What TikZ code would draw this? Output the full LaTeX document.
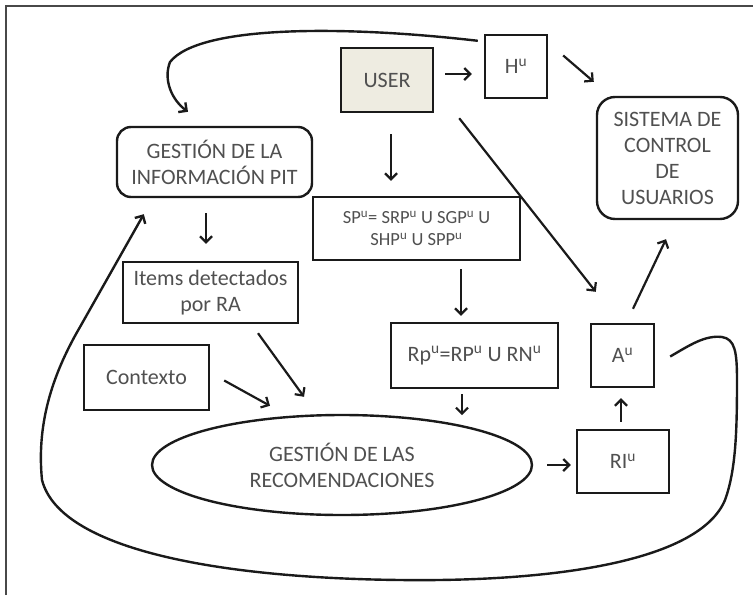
\documentclass[tikz,border=0pt]{standalone}
\usepackage{fontspec}
\setmainfont{Carlito}
\usetikzlibrary{arrows.meta,shapes.geometric,calc}
\definecolor{txt}{HTML}{505050}
\definecolor{ln}{HTML}{1A1A1A}
\definecolor{userfill}{HTML}{EEECE1}
\begin{document}
\begin{tikzpicture}[x=1pt,y=-1pt,
  box/.style={draw=ln,line width=2.4pt,rectangle,inner sep=0pt,align=center,text=txt,font=\fontsize{22}{26}\selectfont},
  rbox/.style={box,rounded corners=14pt},
  arr/.style={draw=ln,line width=2.2pt,-{Straight Barb[length=6pt,width=12pt]}},
  curv/.style={draw=ln,line width=2.4pt}]
\useasboundingbox (0,0) rectangle (753,595);
\draw[line width=1.2pt,draw=ln!80] (6,595) -- (6,6) -- (753,6);

\node[box,fill=userfill,minimum width=92pt,minimum height=64pt] (user) at (387,80) {USER};
\node[box,minimum width=62pt,minimum height=63pt] (hu) at (516,66.5) {H\textsuperscript{u}};
\node[rbox,rounded corners=18pt,minimum width=141pt,minimum height=122pt] (sis) at (667.5,158) {SISTEMA DE\\CONTROL\\DE\\USUARIOS};
\node[rbox,minimum width=195pt,minimum height=70pt] (gi) at (214.5,162) {GESTIÓN DE LA\\INFORMACIÓN PIT};
\node[box,minimum width=207pt,minimum height=63pt,font=\fontsize{18.5}{22}\selectfont] (sp) at (416.5,228.5) {SP\textsuperscript{u}= SRP\textsuperscript{u} U SGP\textsuperscript{u} U\\SHP\textsuperscript{u} U SPP\textsuperscript{u}};
\node[box,minimum width=175pt,minimum height=61pt] (items) at (210.5,292.5) {Items detectados\\por RA};
\node[box,minimum width=167pt,minimum height=65pt] (rp) at (474.5,355.5) {Rp\textsuperscript{u}=RP\textsuperscript{u} U RN\textsuperscript{u}};
\node[box,minimum width=125pt,minimum height=65pt] (ctx) at (146.5,377.5) {Contexto};
\node[box,minimum width=63pt,minimum height=63pt] (au) at (622.5,355.5) {A\textsuperscript{u}};
\node[box,minimum width=92pt,minimum height=63pt] (ri) at (623,461.5) {RI\textsuperscript{u}};
\node[box,ellipse,minimum width=380pt,minimum height=100pt] (ell) at (342,465) {GESTIÓN DE LAS\\RECOMENDACIONES};

\draw[arr] ($(user.east)+(11,-6)$) -- ($(hu.west)+(-12,7.5)$);
\draw[arr] ($(hu.east)+(15,-11)$) -- ($(sis.north west)+(-2,-14)$);
\draw[arr] ($(user.south)+(4,21)$) -- ($(sp.north)+(-25.5,-15)$);
\draw[arr] ($(user.south east)+(25,5)$) -- ($(au.north west)+(6,-31)$);
\draw[arr] ($(au.north)+(10.5,-14)$) -- ($(sis.south)+(-1.5,19)$);
\draw[arr] ($(gi.south)+(-8.5,15)$) -- ($(items.north)+(-4.5,-17)$);
\draw[arr] ($(sp.south)+(44.5,8)$) -- ($(rp.north)+(-13.5,-6)$);
\draw[arr] ($(items.south)+(47.5,9)$) -- ($(ell.north)+(-38,-17)$);
\draw[arr] ($(ctx.east)+(14,3)$) -- ($(ell.north)+(-72,-8)$);
\draw[arr] ($(rp.south)+(-12.5,5)$) -- ($(rp.south)+(-12.5,26)$);
\draw[arr] ($(ell.east)+(14,0)$) -- ($(ri.west)+(-5,3.5)$);
\draw[arr] ($(ri.north)+(-2,-7)$) -- ($(au.south)+(-1.5,10)$);

\coordinate (tstart) at ($(hu.north west)+(-6,7)$);
\draw[curv,-{Straight Barb[length=6pt,width=12pt]}] (tstart) .. controls (350,26) and (200,24) .. (170,62) .. controls (163,80) and (172,100) .. ($(gi.north)+(-26.5,-14)$);

\coordinate (lstart) at ($(au.east)+(15,1)$);
\draw[curv,-{Straight Barb[length=6pt,width=12pt]}] (lstart) .. controls (690,345) and (705,335) .. (722,337) .. controls (735,339) and (737,352) .. (737,380) .. controls (737,430) and (736,470) .. (725,500) .. controls (700,560) and (560,582) .. (400,580) .. controls (220,578) and (60,550) .. (42,480) .. controls (36,420) and (55,370) .. (80,327) -- ($(gi.south west)+(28,16)$);
\end{tikzpicture}
\end{document}
